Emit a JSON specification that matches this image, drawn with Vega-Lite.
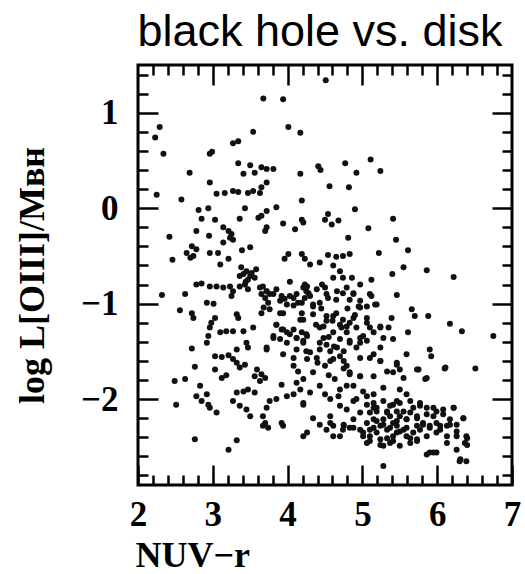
{
  "$schema": "https://vega.github.io/schema/vega-lite/v6.json",
  "width": 374,
  "height": 420,
  "autosize": {"type": "none"},
  "padding": {"left": 138, "top": 65, "right": 13, "bottom": 89},
  "background": "white",
  "title": {"text": "black hole vs. disk", "font": "Liberation Sans", "fontSize": 45, "fontWeight": "normal", "color": "black", "anchor": "middle", "frame": "group", "baseline": "alphabetic", "offset": -27, "dx": -5},
  "config": {
    "view": {"stroke": "black", "strokeWidth": 3},
    "axis": {"domain": false, "grid": false, "tickColor": "black", "tickWidth": 2.5, "labelFont": "Liberation Serif", "labelFontWeight": "bold", "labelFontSize": 35, "labelColor": "black", "labelFlush": false, "labelOverlap": false, "titleFont": "Liberation Serif", "titleFontWeight": "bold", "titleFontSize": 36, "titleColor": "black"}
  },
  "data": {"values": [
    {"x":3.675,"y":1.15},{"x":3.94,"y":1.14},{"x":2.29,"y":0.85},{"x":2.23,"y":0.74},{"x":3.54,"y":0.80},{"x":4.01,"y":0.85},{"x":4.17,"y":0.79},{"x":3.27,"y":0.68},{"x":3.34,"y":0.70},{"x":2.34,"y":0.57},{"x":2.96,"y":0.57},{"x":2.99,"y":0.59},{"x":3.34,"y":0.47},{"x":3.50,"y":0.45},{"x":3.65,"y":0.43},{"x":3.72,"y":0.41},{"x":3.81,"y":0.41},{"x":3.41,"y":0.36},{"x":3.56,"y":0.37},{"x":2.69,"y":0.37},{"x":4.17,"y":0.36},{"x":2.96,"y":0.27},{"x":3.72,"y":0.27},{"x":3.65,"y":0.22},{"x":3.63,"y":0.16},{"x":2.25,"y":0.14},{"x":2.58,"y":0.09},{"x":3.05,"y":0.15},{"x":3.16,"y":0.16},{"x":3.27,"y":0.18},{"x":3.34,"y":0.17},{"x":3.47,"y":0.16},{"x":3.54,"y":0.18},{"x":4.19,"y":0.08},
    {"x":4.51,"y":1.34},{"x":4.41,"y":0.44},{"x":4.44,"y":0.40},{"x":4.77,"y":0.47},{"x":5.11,"y":0.51},{"x":4.92,"y":0.37},{"x":5.24,"y":0.39},{"x":4.56,"y":0.23},{"x":4.82,"y":0.22},{"x":4.90,"y":-0.01},
    {"x":2.81,"y":-0.02},{"x":2.94,"y":0.0},{"x":3.43,"y":0.0},{"x":3.85,"y":0.01},{"x":3.72,"y":-0.03},{"x":3.65,"y":-0.08},{"x":3.61,"y":-0.10},{"x":2.85,"y":-0.11},{"x":3.03,"y":-0.12},{"x":3.36,"y":-0.11},{"x":4.19,"y":-0.12},{"x":4.21,"y":-0.15},{"x":3.94,"y":-0.16},{"x":3.72,"y":-0.20},{"x":3.70,"y":-0.24},{"x":4.10,"y":-0.22},{"x":2.78,"y":-0.24},{"x":3.14,"y":-0.20},{"x":3.21,"y":-0.24},{"x":3.25,"y":-0.27},{"x":3.27,"y":-0.33},{"x":3.23,"y":-0.31},{"x":2.42,"y":-0.30},{"x":2.95,"y":-0.29},{"x":3.14,"y":-0.36},{"x":2.72,"y":-0.40},{"x":2.78,"y":-0.43},{"x":2.65,"y":-0.47},{"x":2.74,"y":-0.50},{"x":2.70,"y":-0.52},{"x":2.96,"y":-0.47},{"x":3.07,"y":-0.47},{"x":3.39,"y":-0.44},{"x":3.50,"y":-0.41},{"x":3.21,"y":-0.53},{"x":2.46,"y":-0.54},{"x":3.10,"y":-0.59},{"x":4.01,"y":-0.48},{"x":3.96,"y":-0.53},{"x":4.19,"y":-0.48},{"x":4.23,"y":-0.53},{"x":3.45,"y":-0.66},{"x":3.41,"y":-0.69},{"x":3.50,"y":-0.71},{"x":3.36,"y":-0.71},{"x":3.47,"y":-0.75},{"x":3.56,"y":-0.73},{"x":4.03,"y":-0.77},{"x":2.78,"y":-0.80},{"x":2.85,"y":-0.79},{"x":2.96,"y":-0.82},{"x":3.05,"y":-0.82},{"x":3.14,"y":-0.83},{"x":3.23,"y":-0.82},{"x":3.27,"y":-0.87},{"x":3.25,"y":-0.92},{"x":3.36,"y":-0.82},{"x":3.43,"y":-0.80},{"x":3.47,"y":-0.85},{"x":3.67,"y":-0.82},{"x":3.72,"y":-0.87},{"x":3.65,"y":-0.90},{"x":3.76,"y":-0.90},{"x":3.70,"y":-0.94},{"x":3.74,"y":-0.99},{"x":3.85,"y":-0.85},{"x":3.92,"y":-0.92},{"x":3.96,"y":-0.95},{"x":4.03,"y":-0.92},{"x":4.12,"y":-0.90},{"x":4.14,"y":-0.99},{"x":4.08,"y":-1.02},{"x":4.21,"y":-0.83},{"x":4.23,"y":-0.94},{"x":2.32,"y":-0.91},{"x":2.63,"y":-0.90},{"x":2.92,"y":-0.99},{"x":3.01,"y":-1.00},{"x":2.56,"y":-1.07},{"x":2.72,"y":-1.10},{"x":2.74,"y":-1.15},{"x":3.32,"y":-1.11},{"x":3.34,"y":-1.15},{"x":3.03,"y":-1.15},{"x":2.98,"y":-1.20},{"x":2.96,"y":-1.25},{"x":3.65,"y":-1.10},{"x":3.76,"y":-1.06},{"x":3.94,"y":-1.10},{"x":3.85,"y":-1.22},{"x":3.92,"y":-1.27},{"x":3.99,"y":-1.30},{"x":4.08,"y":-1.27},{"x":3.54,"y":-1.25},{"x":3.41,"y":-1.29},{"x":3.27,"y":-1.29},{"x":4.21,"y":-1.17},{"x":2.94,"y":-1.34},{"x":3.10,"y":-1.30},{"x":3.18,"y":-1.29},{"x":3.45,"y":-1.41},{"x":2.92,"y":-1.41},{"x":3.81,"y":-1.34},{"x":3.90,"y":-1.37},{"x":3.99,"y":-1.41},{"x":4.12,"y":-1.36},{"x":4.21,"y":-1.41},
    {"x":3.38,"y":-0.62},{"x":3.52,"y":-0.68},{"x":3.44,"y":-0.77},{"x":3.58,"y":-0.64},
    {"x":4.54,"y":-0.06},{"x":4.50,"y":-0.12},{"x":4.59,"y":-0.17},{"x":4.68,"y":-0.13},{"x":5.41,"y":-0.11},{"x":5.08,"y":-0.21},{"x":4.81,"y":-0.31},{"x":5.45,"y":-0.33},{"x":5.61,"y":-0.44},{"x":5.22,"y":-0.47},{"x":4.54,"y":-0.49},{"x":4.65,"y":-0.51},{"x":4.74,"y":-0.50},{"x":4.83,"y":-0.48},{"x":4.30,"y":-0.59},{"x":4.43,"y":-0.57},{"x":4.61,"y":-0.60},{"x":5.55,"y":-0.62},{"x":5.86,"y":-0.65},{"x":6.22,"y":-0.72},{"x":5.40,"y":-0.69},{"x":4.70,"y":-0.66},{"x":4.74,"y":-0.73},{"x":4.86,"y":-0.73},{"x":4.97,"y":-0.80},{"x":5.12,"y":-0.75},{"x":4.26,"y":-0.82},{"x":4.28,"y":-0.89},{"x":4.39,"y":-0.85},{"x":4.50,"y":-0.83},{"x":4.61,"y":-0.73},{"x":5.46,"y":-0.91},{"x":5.12,"y":-0.92},{"x":5.17,"y":-1.01},{"x":5.06,"y":-1.03},{"x":4.95,"y":-1.03},{"x":4.83,"y":-0.96},{"x":4.74,"y":-0.89},{"x":4.88,"y":-0.89},{"x":4.65,"y":-0.96},{"x":4.54,"y":-0.94},{"x":4.43,"y":-0.99},{"x":4.34,"y":-1.03},{"x":4.30,"y":-0.92},{"x":4.19,"y":-0.99},{"x":5.66,"y":-1.06},{"x":5.70,"y":-1.13},{"x":5.88,"y":-1.13},{"x":6.17,"y":-1.21},{"x":6.33,"y":-1.29},{"x":6.75,"y":-1.34},{"x":5.39,"y":-1.15},{"x":5.24,"y":-1.25},{"x":5.35,"y":-1.25},{"x":5.41,"y":-1.37},{"x":5.28,"y":-1.36},{"x":5.61,"y":-1.30},{"x":4.19,"y":-1.10},{"x":4.34,"y":-1.11},{"x":4.52,"y":-1.13},{"x":4.65,"y":-1.10},{"x":4.74,"y":-1.17},{"x":4.83,"y":-1.20},{"x":4.92,"y":-1.25},{"x":5.01,"y":-1.34},{"x":5.06,"y":-1.20},{"x":5.15,"y":-1.30},{"x":4.48,"y":-1.24},{"x":4.61,"y":-1.30},{"x":4.70,"y":-1.37},{"x":4.79,"y":-1.30},{"x":4.43,"y":-1.41},{"x":4.26,"y":-1.34},{"x":4.19,"y":-1.30},{"x":4.97,"y":-1.41},{"x":4.83,"y":-1.41},
    {"x":4.45,"y":-1.05},{"x":4.60,"y":-1.18},{"x":4.72,"y":-1.25},{"x":4.55,"y":-1.35},{"x":4.38,"y":-1.22},{"x":4.90,"y":-1.12},{"x":4.80,"y":-1.05},
    {"x":2.72,"y":-1.47},{"x":3.47,"y":-1.46},{"x":3.32,"y":-1.48},{"x":3.72,"y":-1.48},{"x":4.12,"y":-1.48},{"x":3.03,"y":-1.55},{"x":3.12,"y":-1.56},{"x":3.21,"y":-1.54},{"x":3.27,"y":-1.58},{"x":3.32,"y":-1.62},{"x":3.36,"y":-1.67},{"x":3.43,"y":-1.64},{"x":2.76,"y":-1.66},{"x":3.03,"y":-1.69},{"x":3.12,"y":-1.78},{"x":3.18,"y":-1.75},{"x":3.59,"y":-1.69},{"x":3.65,"y":-1.74},{"x":3.70,"y":-1.78},{"x":3.63,"y":-1.81},{"x":3.56,"y":-1.76},{"x":4.08,"y":-1.65},{"x":4.14,"y":-1.71},{"x":4.21,"y":-1.79},{"x":4.12,"y":-1.83},{"x":4.17,"y":-1.90},{"x":2.49,"y":-1.81},{"x":2.63,"y":-1.79},{"x":3.92,"y":-1.85},{"x":2.83,"y":-1.86},{"x":2.78,"y":-1.97},{"x":2.85,"y":-2.02},{"x":2.94,"y":-2.06},{"x":2.92,"y":-1.95},{"x":2.96,"y":-2.09},{"x":3.05,"y":-2.14},{"x":2.51,"y":-2.06},{"x":3.32,"y":-1.93},{"x":3.41,"y":-1.92},{"x":3.47,"y":-1.90},{"x":3.56,"y":-1.93},{"x":3.27,"y":-2.02},{"x":3.36,"y":-2.07},{"x":3.45,"y":-2.11},{"x":3.50,"y":-2.18},{"x":3.76,"y":-2.02},{"x":3.72,"y":-2.09},{"x":3.67,"y":-2.18},{"x":3.70,"y":-2.25},{"x":3.74,"y":-2.30},{"x":3.67,"y":-2.28},{"x":3.92,"y":-2.25},{"x":3.94,"y":-2.28},{"x":3.85,"y":-2.00},{"x":3.99,"y":-1.97},{"x":4.08,"y":-1.95},{"x":4.21,"y":-2.06},{"x":2.76,"y":-2.42},{"x":3.32,"y":-2.43},{"x":3.21,"y":-2.53},{"x":4.21,"y":-2.39},
    {"x":5.90,"y":-1.48},{"x":5.92,"y":-1.55},{"x":6.10,"y":-1.68},{"x":6.51,"y":-1.68},{"x":5.10,"y":-1.57},{"x":5.24,"y":-1.60},{"x":5.46,"y":-1.62},{"x":5.59,"y":-1.53},{"x":5.50,"y":-1.69},{"x":5.41,"y":-1.72},{"x":5.55,"y":-1.78},{"x":5.75,"y":-1.69},{"x":5.84,"y":-1.79},
    {"x":4.30,"y":-1.51},{"x":4.43,"y":-1.48},{"x":4.26,"y":-1.58},{"x":4.50,"y":-1.65},{"x":4.61,"y":-1.58},{"x":4.70,"y":-1.55},{"x":4.79,"y":-1.65},{"x":4.63,"y":-1.79},{"x":4.83,"y":-1.72},{"x":4.97,"y":-1.76},{"x":4.88,"y":-1.86},{"x":4.34,"y":-1.72},{"x":4.43,"y":-1.86},{"x":4.30,"y":-1.93},{"x":4.21,"y":-2.04},
    {"x":4.68,"y":-1.97},{"x":4.79,"y":-2.11},{"x":4.74,"y":-2.32},{"x":4.61,"y":-2.28},{"x":4.57,"y":-2.18},{"x":4.43,"y":-2.27},{"x":4.26,"y":-2.35},{"x":4.34,"y":-2.20},
    {"x":4.40,"y":-1.62},{"x":4.55,"y":-1.75},{"x":4.70,"y":-1.90},{"x":4.50,"y":-1.95},{"x":4.62,"y":-1.45},{"x":4.75,"y":-1.68},{"x":4.57,"y":-2.00},{"x":4.70,"y":-2.07},
    {"x":4.92,"y":-2.00},{"x":5.06,"y":-1.97},{"x":5.15,"y":-2.04},{"x":5.28,"y":-2.02},{"x":5.37,"y":-2.07},{"x":5.50,"y":-2.04},{"x":5.64,"y":-2.02},{"x":5.77,"y":-2.07},{"x":5.95,"y":-2.09},{"x":6.08,"y":-2.11},{"x":6.22,"y":-2.09},{"x":6.35,"y":-2.20},{"x":6.26,"y":-2.27},{"x":6.13,"y":-2.28},{"x":6.04,"y":-2.32},{"x":5.99,"y":-2.35},{"x":5.86,"y":-2.39},{"x":5.73,"y":-2.42},{"x":5.64,"y":-2.46},{"x":5.50,"y":-2.49},{"x":5.37,"y":-2.46},{"x":5.28,"y":-2.49},{"x":5.24,"y":-2.42},{"x":5.19,"y":-2.35},{"x":5.10,"y":-2.39},{"x":5.06,"y":-2.46},{"x":5.01,"y":-2.39},{"x":4.97,"y":-2.32},{"x":5.06,"y":-2.25},{"x":5.15,"y":-2.21},{"x":5.28,"y":-2.21},{"x":5.37,"y":-2.18},{"x":5.50,"y":-2.18},{"x":5.59,"y":-2.21},{"x":5.73,"y":-2.18},{"x":5.81,"y":-2.25},{"x":5.90,"y":-2.28},{"x":5.77,"y":-2.32},{"x":5.68,"y":-2.35},{"x":5.55,"y":-2.32},{"x":5.46,"y":-2.35},{"x":5.33,"y":-2.32},{"x":5.41,"y":-2.25},{"x":5.24,"y":-2.28},{"x":5.10,"y":-2.14},{"x":4.97,"y":-2.14},{"x":4.88,"y":-2.21},{"x":4.83,"y":-2.30},{"x":4.75,"y":-2.28},{"x":4.70,"y":-2.39},{"x":4.61,"y":-2.39},{"x":4.57,"y":-2.25},{"x":4.52,"y":-2.32},{"x":6.13,"y":-2.39},{"x":6.26,"y":-2.39},{"x":6.39,"y":-2.39},{"x":6.37,"y":-2.46},{"x":6.26,"y":-2.53},{"x":6.13,"y":-2.46},{"x":5.86,"y":-2.58},{"x":5.95,"y":-2.56},{"x":6.30,"y":-2.65},{"x":6.39,"y":-2.65},{"x":5.28,"y":-2.70},{"x":5.15,"y":-2.09},{"x":5.64,"y":-2.14},{"x":5.95,"y":-2.18},
    {"x":5.19,"y":-2.13},{"x":5.33,"y":-2.14},{"x":5.46,"y":-2.13},{"x":5.41,"y":-2.39},{"x":5.59,"y":-2.39},{"x":5.73,"y":-2.28},{"x":5.86,"y":-2.16},{"x":5.99,"y":-2.25},{"x":6.17,"y":-2.21},{"x":5.19,"y":-2.23},{"x":5.46,"y":-2.28},{"x":5.59,"y":-2.30},{"x":5.10,"y":-2.32},
    {"x":4.23,"y":-0.80},{"x":4.46,"y":-0.80},{"x":4.25,"y":-0.87},{"x":4.34,"y":-1.01},{"x":4.52,"y":-0.90},{"x":4.66,"y":-0.87},{"x":4.79,"y":-0.83},{"x":4.88,"y":-0.90},{"x":4.97,"y":-0.97},{"x":5.10,"y":-0.90},{"x":5.19,"y":-1.01},{"x":3.63,"y":-0.83},{"x":3.72,"y":-0.87},{"x":3.81,"y":-0.90},{"x":3.90,"y":-0.97},{"x":3.99,"y":-1.01},{"x":4.08,"y":-0.94},{"x":3.68,"y":-1.04},{"x":3.90,"y":-1.10},{"x":4.17,"y":-1.17},{"x":4.52,"y":-1.18},{"x":4.61,"y":-1.13},{"x":4.70,"y":-1.22},{"x":4.79,"y":-1.24},{"x":4.88,"y":-1.15},{"x":4.97,"y":-1.04},{"x":5.06,"y":-1.15},{"x":5.10,"y":-1.25},{"x":5.24,"y":-1.24},{"x":3.85,"y":-1.22},{"x":3.94,"y":-1.27},{"x":4.03,"y":-1.32},{"x":4.12,"y":-1.36},{"x":4.21,"y":-1.39},{"x":4.25,"y":-1.32},{"x":4.43,"y":-1.25},{"x":4.48,"y":-1.36},{"x":4.52,"y":-1.43},{"x":4.57,"y":-1.50},{"x":4.66,"y":-1.46},{"x":4.75,"y":-1.50},{"x":4.83,"y":-1.39},{"x":4.92,"y":-1.46},{"x":4.97,"y":-1.36},{"x":5.06,"y":-1.39},{"x":5.15,"y":-1.53},{"x":5.24,"y":-1.60},{"x":3.72,"y":-1.46},{"x":3.81,"y":-1.36},{"x":3.94,"y":-1.53},{"x":4.08,"y":-1.57},{"x":4.25,"y":-1.50},{"x":4.39,"y":-1.57},{"x":4.75,"y":-1.60},{"x":4.57,"y":-1.60},{"x":4.97,"y":-1.57},{"x":5.24,"y":-1.46},
    {"x":4.83,"y":-1.74},{"x":4.97,"y":-1.76},{"x":5.15,"y":-1.76},{"x":5.33,"y":-1.71},{"x":5.46,"y":-1.64},{"x":5.73,"y":-1.69},{"x":5.86,"y":-1.78},{"x":6.11,"y":-1.67},{"x":4.79,"y":-1.86},{"x":5.01,"y":-1.92},{"x":5.15,"y":-1.95},{"x":5.28,"y":-1.88},{"x":5.50,"y":-1.90},{"x":5.59,"y":-1.95},{"x":5.46,"y":-2.02},{"x":4.88,"y":-2.02},{"x":5.06,"y":-2.06},{"x":5.19,"y":-2.09},{"x":5.33,"y":-2.13},{"x":5.41,"y":-2.06},{"x":5.55,"y":-2.13},{"x":5.68,"y":-2.09},{"x":5.77,"y":-2.04},{"x":5.86,"y":-2.09},{"x":5.99,"y":-2.13},{"x":6.08,"y":-2.16},{"x":6.22,"y":-2.09},{"x":6.35,"y":-2.20},{"x":4.75,"y":-2.27},{"x":4.88,"y":-2.30},{"x":5.01,"y":-2.35},{"x":5.10,"y":-2.44},{"x":5.24,"y":-2.48},{"x":5.15,"y":-2.30},{"x":5.28,"y":-2.27},{"x":5.37,"y":-2.30},{"x":5.46,"y":-2.23},{"x":5.59,"y":-2.21},{"x":5.73,"y":-2.20},{"x":5.81,"y":-2.27},{"x":5.90,"y":-2.30},{"x":6.04,"y":-2.28},{"x":6.17,"y":-2.27},{"x":6.26,"y":-2.34},{"x":6.40,"y":-2.41},{"x":6.40,"y":-2.48},{"x":5.33,"y":-2.41},{"x":5.41,"y":-2.44},{"x":5.50,"y":-2.34},{"x":5.64,"y":-2.41},{"x":5.73,"y":-2.44},{"x":5.90,"y":-2.56},{"x":5.99,"y":-2.56},{"x":6.31,"y":-2.63}
  ]},
  "resolve": {"axis": {"x": "independent", "y": "independent"}},
  "layer": [
    {
      "mark": {"type": "circle", "size": 36, "color": "#111111", "opacity": 1},
      "encoding": {
        "x": {"field": "x", "type": "quantitative", "scale": {"domain": [2, 7], "nice": false, "zero": false},
          "axis": {"orient": "bottom", "values": [2, 3, 4, 5, 6, 7], "tickSize": -20, "labelPadding": 60, "labelBaseline": "alphabetic", "title": "NUV−r", "titleX": -3, "titleY": 81, "titleAlign": "left", "titleAnchor": "start", "titleBaseline": "alphabetic"}},
        "y": {"field": "y", "type": "quantitative", "scale": {"domain": [-2.9, 1.5], "nice": false, "zero": false},
          "axis": {"orient": "left", "values": [-2, -1, 0, 1], "tickSize": -20, "labelPadding": 40, "title": "log L[OIII]/Mʙʜ", "titleX": -95, "titleY": 210, "titleAlign": "center", "titleBaseline": "alphabetic"}}
      }
    },
    {
      "mark": {"type": "point", "opacity": 0},
      "encoding": {
        "x": {"field": "x", "type": "quantitative", "scale": {"domain": [2, 7], "nice": false, "zero": false},
          "axis": {"orient": "top", "values": [3, 4, 5, 6], "tickSize": -20, "labels": false, "title": null}},
        "y": {"field": "y", "type": "quantitative", "scale": {"domain": [-2.9, 1.5], "nice": false, "zero": false},
          "axis": {"orient": "right", "values": [-2, -1, 0, 1], "tickSize": -20, "labels": false, "title": null}}
      }
    },
    {
      "mark": {"type": "point", "opacity": 0},
      "encoding": {
        "x": {"field": "x", "type": "quantitative", "scale": {"domain": [2, 7], "nice": false, "zero": false},
          "axis": {"orient": "bottom", "values": [2.2, 2.4, 2.6, 2.8, 3.2, 3.4, 3.6, 3.8, 4.2, 4.4, 4.6, 4.8, 5.2, 5.4, 5.6, 5.8, 6.2, 6.4, 6.6, 6.8], "tickSize": -10, "labels": false, "title": null}},
        "y": {"field": "y", "type": "quantitative", "scale": {"domain": [-2.9, 1.5], "nice": false, "zero": false},
          "axis": {"orient": "left", "values": [-2.8, -2.6, -2.4, -2.2, -1.8, -1.6, -1.4, -1.2, -0.8, -0.6, -0.4, -0.2, 0.2, 0.4, 0.6, 0.8, 1.2, 1.4], "tickSize": -10, "labels": false, "title": null}}
      }
    },
    {
      "mark": {"type": "point", "opacity": 0},
      "encoding": {
        "x": {"field": "x", "type": "quantitative", "scale": {"domain": [2, 7], "nice": false, "zero": false},
          "axis": {"orient": "top", "values": [2.2, 2.4, 2.6, 2.8, 3.2, 3.4, 3.6, 3.8, 4.2, 4.4, 4.6, 4.8, 5.2, 5.4, 5.6, 5.8, 6.2, 6.4, 6.6, 6.8], "tickSize": -10, "labels": false, "title": null}},
        "y": {"field": "y", "type": "quantitative", "scale": {"domain": [-2.9, 1.5], "nice": false, "zero": false},
          "axis": {"orient": "right", "values": [-2.8, -2.6, -2.4, -2.2, -1.8, -1.6, -1.4, -1.2, -0.8, -0.6, -0.4, -0.2, 0.2, 0.4, 0.6, 0.8, 1.2, 1.4], "tickSize": -10, "labels": false, "title": null}}
      }
    }
  ]
}
